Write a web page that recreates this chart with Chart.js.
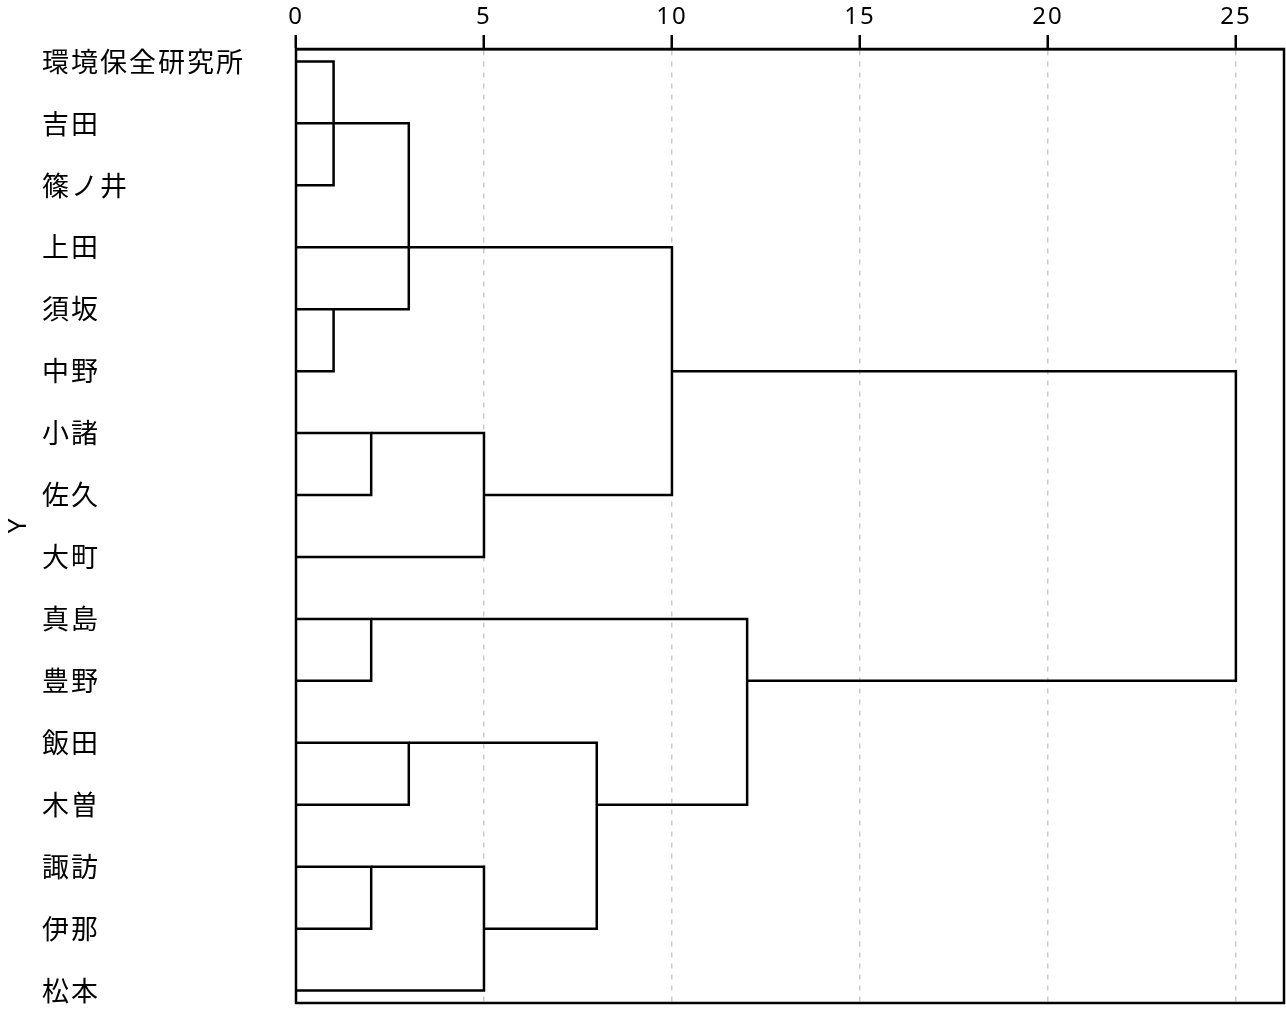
<!DOCTYPE html>
<html>
<head>
<meta charset="utf-8">
<script src="https://cdn.jsdelivr.net/npm/chart.js@4/dist/chart.umd.min.js"></script>
<style>
  body { margin: 0; background: #fff; }
</style>
</head>
<body>
<canvas id="myChart" width="1286" height="1012"></canvas>
<script>
// leaves, top to bottom
let names = ['環境保全研究所', '吉田', '篠ノ井', '上田', '須坂', '中野', '小諸', '佐久', '大町',
             '真島', '豊野', '飯田', '木曽', '諏訪', '伊那', '松本'];
let xTicks = [0, 5, 10, 15, 20, 25];

// one entry per link: rows joined, merge height, and where each leg starts
let linkTop    = [0, 1, 4, 3, 6, 6, 5, 9, 9, 11, 11, 13, 13];
let linkBottom = [2, 4, 5, 7, 7, 8, 10, 10, 12, 12, 14, 14, 15];
let linkHeight = [1, 3, 1, 10, 2, 5, 25, 2, 12, 3, 8, 2, 5];
let legTop     = [0, 0, 0, 0, 0, 2, 10, 0, 2, 0, 3, 0, 2];
let legBottom  = [0, 1, 0, 5, 0, 0, 12, 0, 8, 0, 5, 0, 0];

let datasets = linkHeight.map((h, i) => ({
    data: [
        {x: legTop[i], y: linkTop[i]},
        {x: h, y: linkTop[i]},
        {x: h, y: linkBottom[i]},
        {x: legBottom[i], y: linkBottom[i]}
    ],
    showLine: true,
    borderColor: '#000',
    borderWidth: 2.5,
    pointRadius: 0,
    tension: 0
}));

// box round the plot area and the rotated "Y" title
let framePlugin = {
    id: 'frame',
    beforeDraw(chart) {
        chart.ctx.letterSpacing = '2px';
    },
    afterDatasetsDraw(chart) {
        let a = chart.chartArea;
        let ctx = chart.ctx;
        ctx.save();
        ctx.strokeStyle = '#000';
        ctx.lineWidth = 2.5;
        ctx.strokeRect(a.left, a.top, a.right - a.left, a.bottom - a.top);
        ctx.restore();
    },
    afterDraw(chart) {
        let a = chart.chartArea;
        let ctx = chart.ctx;
        ctx.save();
        ctx.letterSpacing = '0px';
        ctx.translate(19, (a.top + a.bottom) / 2);
        ctx.rotate(-Math.PI / 2);
        ctx.font = '26px "Noto Sans", sans-serif';
        ctx.fillStyle = '#000';
        ctx.textAlign = 'center';
        ctx.textBaseline = 'middle';
        ctx.fillText('Y', 0, 0);
        ctx.restore();
    }
};

let ctx = document.getElementById('myChart').getContext('2d');

let chart = new Chart(ctx, {
    type: 'scatter',
    data: { datasets: datasets },
    plugins: [framePlugin],
    options: {
        responsive: false,
        animation: false,
        layout: {
            padding: { left: 42, right: 2, top: 0, bottom: 9 }
        },
        plugins: {
            legend: { display: false },
            tooltip: { enabled: false }
        },
        scales: {
            x: {
                type: 'linear',
                position: 'top',
                min: 0,
                max: 26.28,
                afterBuildTicks: (scale) => {
                    scale.ticks = xTicks.map(v => ({ value: v }));
                },
                afterFit: (scale) => {
                    scale.height = 49;
                    scale.paddingLeft = 0;
                    scale.paddingRight = 0;
                },
                ticks: {
                    color: '#000',
                    font: { family: '"Noto Sans", sans-serif', size: 24 },
                    padding: 3
                },
                grid: {
                    color: '#cccccc',
                    lineWidth: 1.5,
                    drawTicks: true,
                    tickLength: 14,
                    tickColor: '#000',
                    tickWidth: 2.5,
                    tickBorderDash: []
                },
                border: { display: true, color: '#000', width: 2.5, dash: [5, 6] }
            },
            y: {
                type: 'linear',
                reverse: true,
                min: -0.2,
                max: 15.2,
                afterBuildTicks: (scale) => {
                    scale.ticks = names.map((n, i) => ({ value: i }));
                },
                afterFit: (scale) => {
                    scale.width = 254;
                    scale.paddingTop = 0;
                    scale.paddingBottom = 0;
                },
                ticks: {
                    color: '#000',
                    crossAlign: 'far',
                    autoSkip: false,
                    font: { family: '"Noto Sans CJK JP", sans-serif', size: 27 },
                    callback: (v) => names[v]
                },
                grid: { display: false },
                border: { display: false }
            }
        }
    }
});
</script>
</body>
</html>
